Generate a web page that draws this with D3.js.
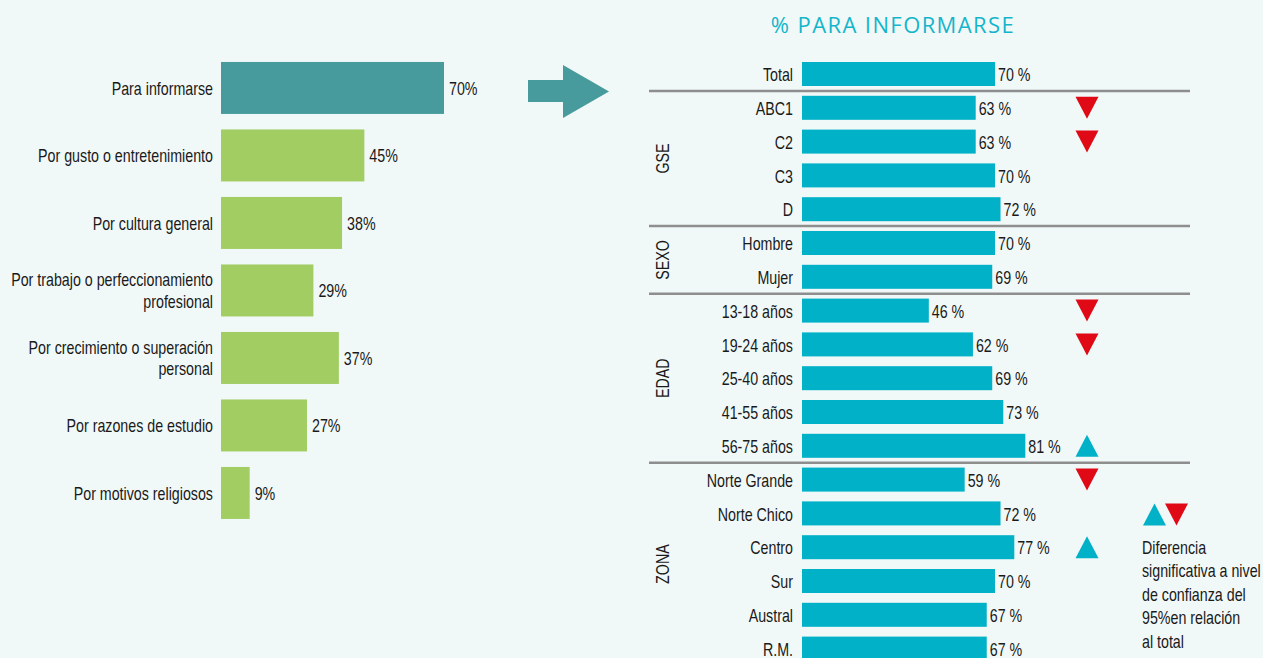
<!DOCTYPE html>
<html>
<head>
<meta charset="utf-8">
<script src="https://cdn.jsdelivr.net/npm/d3@7"></script>
<style>
  html, body { margin: 0; padding: 0; background: #f1f9f8; }
  svg { display: block; }
  .lbl { font-family: "Liberation Sans", Arial, sans-serif; font-size: 19px; fill: #1a1a1a; }
</style>
</head>
<body>
<div id="chart"></div>
<script>
// left chart data
const reasons = [
    "Para informarse",
    "Por gusto o entretenimiento",
    "Por cultura general",
    "Por trabajo o perfeccionamiento\nprofesional",
    "Por crecimiento o superación\npersonal",
    "Por razones de estudio",
    "Por motivos religiosos"
];
const reasonValues = [70, 45, 38, 29, 37, 27, 9];

// right chart data
const segments = ["Total", "ABC1", "C2", "C3", "D", "Hombre", "Mujer",
    "13-18 años", "19-24 años", "25-40 años", "41-55 años", "56-75 años",
    "Norte Grande", "Norte Chico", "Centro", "Sur", "Austral", "R.M."];
const segmentGroups = ["", "GSE", "GSE", "GSE", "GSE", "SEXO", "SEXO",
    "EDAD", "EDAD", "EDAD", "EDAD", "EDAD",
    "ZONA", "ZONA", "ZONA", "ZONA", "ZONA", "ZONA"];
const segmentValues = [70, 63, 63, 70, 72, 70, 69, 46, 62, 69, 73, 81, 59, 72, 77, 70, 67, 67];
// -1 = significantly lower, 1 = significantly higher
const significance = [0, -1, -1, 0, 0, 0, 0, -1, -1, 0, 0, 1, -1, 0, 1, 0, 0, 0];

const legendLines = ["Diferencia", "significativa a nivel", "de confianza del", "95%en relación", "al total"];

const svgWidth = 1263;
const svgHeight = 658;

const teal = "#479b9c";
const green = "#a1cd62";
const cyan = "#00b1c8";
const red = "#e00a16";

// no condensed font available, squeeze the text horizontally instead
const squeeze = 0.75;
const at = (x, y, rot) => `translate(${x},${y})${rot ? ` rotate(${rot})` : ""} scale(${squeeze},1)`;

const svg = d3.select("#chart")
    .append("svg")
    .attr("width", svgWidth)
    .attr("height", svgHeight);

// ---- Left chart ----
const xL = d3.scaleLinear().domain([0, 70]).range([221, 444]);
const yL = d3.scaleBand()
    .domain(d3.range(reasons.length))
    .range([54.2, 526.7])
    .paddingInner(0.23)
    .paddingOuter(0.115);

const left = svg.append("g");

left.selectAll("rect")
    .data(reasonValues)
    .join("rect")
    .attr("x", xL(0))
    .attr("y", (_d, i) => yL(i))
    .attr("width", d => xL(d) - xL(0))
    .attr("height", yL.bandwidth())
    .style("fill", (_d, i) => i === 0 ? teal : green);

left.selectAll("text.val")
    .data(reasonValues)
    .join("text")
    .attr("class", "lbl val")
    .attr("transform", (d, i) => at(xL(d) + 5, yL(i) + yL.bandwidth() / 2))
    .attr("dy", "0.35em")
    .text(d => d + "%");

left.selectAll("text.cat")
    .data(reasons)
    .join("text")
    .attr("class", "lbl cat")
    .attr("text-anchor", "end")
    .attr("transform", (_d, i) => at(213, yL(i) + yL.bandwidth() / 2))
    .each(function(d) {
        const lines = d.split("\n");
        const lh = 21.5;
        d3.select(this).selectAll("tspan")
            .data(lines)
            .join("tspan")
            .attr("x", 0)
            .attr("y", (_l, j) => (j - (lines.length - 1) / 2) * lh)
            .attr("dy", "0.35em")
            .text(l => l);
    });

// arrow
svg.append("path")
    .attr("d", "M528,80 L563,80 L563,65 L609,91.5 L563,118 L563,102 L528,102 Z")
    .style("fill", teal);

// ---- Right chart ----
const xR = d3.scaleLinear().domain([0, 70]).range([802, 995]);
const yR = d3.scaleBand()
    .domain(d3.range(segments.length))
    .range([57.1, 665.5])
    .paddingInner(0.29)
    .paddingOuter(0.145);
const mid = i => yR(i) + yR.bandwidth() / 2;

svg.append("text")
    .attr("x", 893)
    .attr("y", 33)
    .attr("text-anchor", "middle")
    .style("font-family", "'Open Sans', sans-serif")
    .style("font-size", "22px")
    .style("letter-spacing", "1.4px")
    .style("fill", "#14b5cb")
    .text("% PARA INFORMARSE");

const right = svg.append("g");

right.selectAll("rect")
    .data(segmentValues)
    .join("rect")
    .attr("x", xR(0))
    .attr("y", (_d, i) => yR(i))
    .attr("width", d => xR(d) - xR(0))
    .attr("height", yR.bandwidth())
    .style("fill", cyan);

right.selectAll("text.val")
    .data(segmentValues)
    .join("text")
    .attr("class", "lbl val")
    .attr("transform", (d, i) => at(xR(d) + 3, mid(i)))
    .attr("dy", "0.38em")
    .text(d => d + " %");

right.selectAll("text.cat")
    .data(segments)
    .join("text")
    .attr("class", "lbl cat")
    .attr("transform", (_d, i) => at(793, mid(i)))
    .attr("dy", "0.38em")
    .attr("text-anchor", "end")
    .text(d => d);

// separators between groups
const step = yR.step();
const breaks = d3.range(segments.length - 1).filter(i => segmentGroups[i] !== segmentGroups[i + 1]);
right.selectAll("line.sep")
    .data(breaks)
    .join("line")
    .attr("x1", 649)
    .attr("x2", 1190)
    .attr("y1", i => mid(i) + step / 2)
    .attr("y2", i => mid(i) + step / 2)
    .style("stroke", "#8e8e8e")
    .style("stroke-width", 2.5);

// group labels
const groups = Array.from(d3.group(d3.range(segments.length).filter(i => segmentGroups[i]), i => segmentGroups[i]));
right.selectAll("text.grp")
    .data(groups)
    .join("text")
    .attr("class", "lbl grp")
    .attr("text-anchor", "middle")
    .attr("dy", "0.35em")
    .attr("transform", ([, idx]) => `translate(662,${d3.mean(idx, mid)}) rotate(-90) scale(${squeeze},1)`)
    .text(([g]) => g);

// significance markers
const tri = (cx, cy, up) => up
    ? `M${cx - 11.5},${cy + 11} L${cx + 11.5},${cy + 11} L${cx},${cy - 11} Z`
    : `M${cx - 11.5},${cy - 11} L${cx + 11.5},${cy - 11} L${cx},${cy + 11} Z`;

right.selectAll("path.sig")
    .data(significance.map((s, i) => ({ s, i })).filter(d => d.s !== 0))
    .join("path")
    .attr("d", d => tri(1087, mid(d.i), d.s > 0))
    .style("fill", d => d.s > 0 ? cyan : red);

// legend
svg.append("path").attr("d", tri(1154.5, 514.5, true)).style("fill", cyan);
svg.append("path").attr("d", tri(1176.5, 514.5, false)).style("fill", red);

svg.append("g")
    .selectAll("text")
    .data(legendLines)
    .join("text")
    .attr("class", "lbl")
    .attr("transform", (_d, i) => at(1142, 547 + i * 23.6))
    .attr("dy", "0.35em")
    .text(d => d);
</script>
</body>
</html>
